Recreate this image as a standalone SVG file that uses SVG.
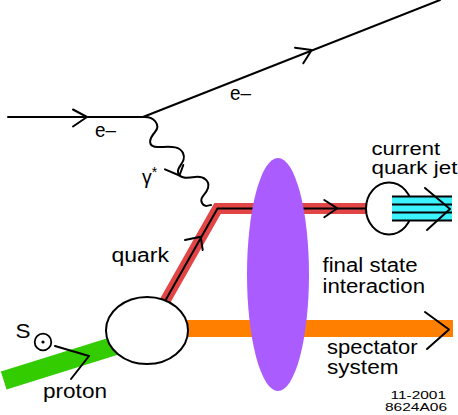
<svg xmlns="http://www.w3.org/2000/svg" width="458" height="415" viewBox="0 0 458 415">
<style>
.t{font-family:"Liberation Sans",Arial,Helvetica,sans-serif;font-size:19.5px;fill:#000}
.m{font-family:"Liberation Sans",Arial,Helvetica,sans-serif;font-size:17.5px;fill:#000}
.s{font-family:"Liberation Sans",Arial,Helvetica,sans-serif;font-size:11.5px;fill:#000}
.ln{fill:none;stroke:#000;stroke-width:2;stroke-linecap:round;stroke-linejoin:round}
.ol{fill:#fff;stroke:#000;stroke-width:2}
</style>
<rect width="458" height="415" fill="#fff"/>
<g id="bands">
  <line x1="3.7" y1="380.5" x2="135" y2="339.5" stroke="#33cc00" stroke-width="19"/>
  <rect x="150" y="320" width="303" height="17" fill="#ff8000"/>
  <polyline points="158,313.4 217.5,208.5 366,208.5" fill="none" stroke="#e24545" stroke-width="11" stroke-linejoin="miter"/>
</g>
<g id="connectors">
  <line class="ln" x1="8" y1="117" x2="143" y2="117"/>
  <polyline class="ln" points="73,109.5 87,117 73,126.5"/>
  <line class="ln" x1="143" y1="117" x2="440" y2="0"/>
  <polyline class="ln" points="295,47.7 311.7,50 303.3,63.3"/>
  <path class="ln" d="M143,117 C154,116 161,125 155,132 C149,139 147,147 158,147 C169,147 179,145 183,153 C187,162 177,166 178,172 C179,179 187,178 195,177 C204,176 210,181 208,188 C206,195 199,197 202,203 C204,207 207,206 211,205"/>
  <polyline class="ln" points="165,169.3 179.5,175.5 183.3,165"/>
  <polyline fill="none" stroke="#000" stroke-width="2" stroke-linejoin="miter" points="158,313.4 217.5,208.5 366,208.5"/>
  <polyline class="ln" points="185,240 200.7,236.7 202.7,250"/>
  <polyline class="ln" points="324.3,200 337.3,208.3 324.3,217.3"/>
  <polyline class="ln" points="55,346 89,356 71,379"/>
</g>
<g id="fsi">
  <ellipse cx="278" cy="274.5" rx="31" ry="116.5" fill="#aa5cff"/>
</g>
<g id="vertex">
  <ellipse class="ol" cx="147" cy="330.5" rx="41" ry="33.5"/>
</g>
<g id="jet">
  <ellipse class="ol" cx="389" cy="208.5" rx="23" ry="26"/>
  <rect x="392" y="196" width="60" height="25" fill="#3cf2ff"/>
  <g stroke="#000" stroke-width="2">
    <line x1="392" y1="196.5" x2="452" y2="196.5"/>
    <line x1="392" y1="204.5" x2="452" y2="204.5"/>
    <line x1="392" y1="212.5" x2="452" y2="212.5"/>
    <line x1="392" y1="220.5" x2="452" y2="220.5"/>
  </g>
  <polyline class="ln" points="425,188 450,209 427,230"/>
</g>
<g id="spectator">
  <polyline class="ln" points="425,312 449,329.5 427,349"/>
</g>
<g id="spin">
  <circle cx="43" cy="342" r="8.3" fill="none" stroke="#000" stroke-width="1.8"/>
  <circle cx="43" cy="342" r="1.6" fill="#000"/>
</g>
<g id="labels">
  <text class="t" x="95" y="137" textLength="21" lengthAdjust="spacingAndGlyphs">e–</text>
  <text class="t" x="230" y="100" textLength="21" lengthAdjust="spacingAndGlyphs">e–</text>
  <text class="t" x="142" y="184">γ<tspan font-size="14" dy="-7">*</tspan></text>
  <text class="t" x="111.5" y="261.7" textLength="57.5" lengthAdjust="spacingAndGlyphs">quark</text>
  <text class="m" x="371.5" y="154.5" textLength="68.5" lengthAdjust="spacingAndGlyphs">current</text>
  <text class="m" x="371.5" y="173.5" textLength="86" lengthAdjust="spacingAndGlyphs">quark jet</text>
  <text class="t" x="322.5" y="271.7" textLength="95" lengthAdjust="spacingAndGlyphs">final state</text>
  <text class="t" x="322.5" y="292.7" textLength="102.5" lengthAdjust="spacingAndGlyphs">interaction</text>
  <text class="t" x="327" y="353.5" textLength="90.5" lengthAdjust="spacingAndGlyphs">spectator</text>
  <text class="t" x="327" y="374" textLength="71.5" lengthAdjust="spacingAndGlyphs">system</text>
  <text class="t" x="15.5" y="338" textLength="15" lengthAdjust="spacingAndGlyphs">S</text>
  <text class="t" x="43" y="398" textLength="64" lengthAdjust="spacingAndGlyphs">proton</text>
  <text class="s" x="390.5" y="399" textLength="55.5" lengthAdjust="spacingAndGlyphs">11-2001</text>
  <text class="s" x="385" y="411" textLength="62" lengthAdjust="spacingAndGlyphs">8624A06</text>
</g>
</svg>
